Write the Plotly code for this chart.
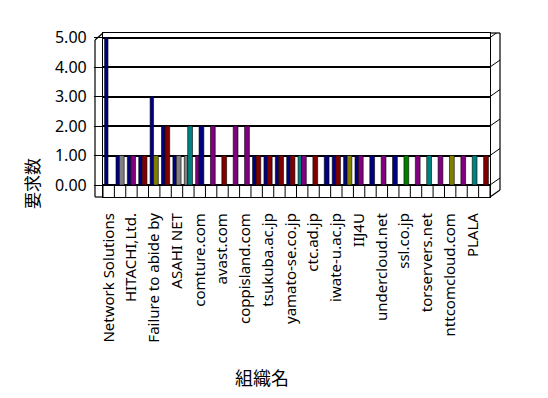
import plotly.graph_objects as go

# ---------------- data ----------------
tick_labels = ["Network Solutions", "HITACHI,Ltd.", "Failure to abide by", "ASAHI NET",
               "comture.com", "avast.com", "coppisland.com", "tsukuba.ac.jp",
               "yamato-se.co.jp", "ctc.ad.jp", "iwate-u.ac.jp", "IIJ4U",
               "undercloud.net", "ssl.co.jp", "torservers.net", "nttcomcloud.com", "PLALA"]
positions = list(range(34))          # one slot per organisation, every other one labelled
label_positions = positions[::2]

front_values = [5, 1, 1, 1, 3, 2, 1, 1, 1, 0, 0, 0, 0, 1, 1, 1, 1,
                1, 0, 0, 1, 1, 1, 0, 0, 0, 0, 0, 0, 0, 0, 0, 0, 0]
back_values = [0, 1, 1, 1, 1, 2, 1, 2, 2, 2, 1, 2, 2, 1, 1, 1, 1,
               1, 1, 1, 1, 1, 1, 1, 1, 1, 1, 1, 1, 1, 1, 1, 1, 1]

front_color_names = ["navy"] * 7 + ["gray", "purple"] + ["navy"] * 8 + ["teal"] + ["navy"] * 16
back_color_names = ["navy", "gray", "purple", "darkred", "olive", "darkred", "gray", "teal",
                    "navy", "purple", "darkred", "purple", "purple", "darkred", "darkred",
                    "darkred", "darkred", "purple", "darkred", "navy", "darkred", "olive",
                    "purple", "navy", "purple", "navy", "green", "purple", "teal", "purple",
                    "olive", "purple", "teal", "darkred"]

y_ticks = [0, 1, 2, 3, 4, 5]

# ---------------- style ----------------
palette = {"navy": "#000080", "gray": "#808080", "purple": "#800080", "darkred": "#800000",
           "olive": "#808000", "teal": "#008080", "green": "#008000"}
FONT = "Noto Sans, Noto Sans CJK JP, sans-serif"

PAGE_OFF = 8                              # default body margin of the html page
W, H = 548 - PAGE_OFF, 398 - PAGE_OFF
L, R, T, B = 103, 490, 33, 197            # plot area in window pixels
Y_LO = -12 / 29.5
Y_HI = 5 + 4.5 / 29.5


def px(xp):
    return (xp - L) / (R - L)


def py(yp):
    return (B - yp) / (B - T)


fig = go.Figure()
fig.add_trace(go.Bar(x=positions, y=front_values,
                     marker=dict(color=[palette[c] for c in front_color_names],
                                 line=dict(color="black", width=0.6)),
                     width=0.3, offset=-0.36, showlegend=False))
fig.add_trace(go.Bar(x=positions, y=back_values,
                     marker=dict(color=[palette[c] for c in back_color_names],
                                 line=dict(color="black", width=0.6)),
                     width=0.42, offset=-0.06, showlegend=False))

shapes = []
# floor slab cells
for k in range(len(positions) + 1):
    shapes.append(dict(type="line", xref="x", yref="y", x0=k - 0.5, x1=k - 0.5,
                       y0=Y_LO, y1=0, line=dict(color="black", width=1)))
# 3-D box outline
line_k = dict(color="black", width=1.2)
shapes += [
    dict(type="line", xref="paper", yref="paper", x0=px(95), x1=px(95), y0=py(197), y1=py(40), line=line_k),
    dict(type="line", xref="paper", yref="paper", x0=px(95), x1=px(103), y0=py(40), y1=py(33), line=line_k),
    dict(type="line", xref="paper", yref="paper", x0=px(95), x1=px(103), y0=py(197), y1=py(197), line=line_k),
    dict(type="line", xref="paper", yref="paper", x0=px(490), x1=px(500), y0=py(197), y1=py(190), line=line_k),
    dict(type="line", xref="paper", yref="paper", x0=px(500), x1=px(500), y0=py(190), y1=py(33), line=line_k),
    dict(type="line", xref="paper", yref="paper", x0=px(490), x1=px(500), y0=py(33), y1=py(33), line=line_k),
]
for v in y_ticks:
    shapes.append(dict(type="line", xref="paper", yref="y", x0=px(490), x1=px(500),
                       y0=v, y1=v + 7 / 29.5, line=dict(color="black", width=1)))

fig.update_layout(
    width=W, height=H,
    margin=dict(l=L - PAGE_OFF, r=W - (R - PAGE_OFF), t=T - PAGE_OFF, b=H - (B - PAGE_OFF), pad=0),
    paper_bgcolor="white", plot_bgcolor="white",
    barmode="overlay",
    font=dict(family=FONT, color="black"),
    shapes=shapes,
    xaxis=dict(range=[-0.5, len(positions) - 0.5], tickmode="array",
               tickvals=label_positions, ticktext=tick_labels, tickangle=-90,
               tickfont=dict(size=15, family=FONT), ticks="", ticklabelstandoff=9,
               showline=True, linecolor="black", linewidth=1.2, mirror=True,
               showgrid=False, zeroline=False, fixedrange=True),
    yaxis=dict(range=[Y_LO, Y_HI], tickmode="array", tickvals=y_ticks,
               ticktext=[f"{v:.2f}" for v in y_ticks],
               tickfont=dict(size=16, family=FONT), ticks="outside", ticklen=8,
               tickcolor="black", ticklabelstandoff=4,
               showline=True, linecolor="black", linewidth=1.2, mirror=True,
               showgrid=True, gridcolor="black", gridwidth=1.6, zeroline=False,
               fixedrange=True),
    annotations=[
        dict(text="要求数", xref="paper", yref="paper", x=px(31), y=py(184),
             xanchor="center", yanchor="middle",
             showarrow=False, textangle=-90, font=dict(size=17, family="Noto Sans CJK JP")),
        dict(text="組織名", xref="paper", yref="paper", x=px(262), y=py(377),
             xanchor="center", yanchor="middle",
             showarrow=False, font=dict(size=18, family="Noto Sans CJK JP")),
    ],
)

fig.write_html("out.html")
